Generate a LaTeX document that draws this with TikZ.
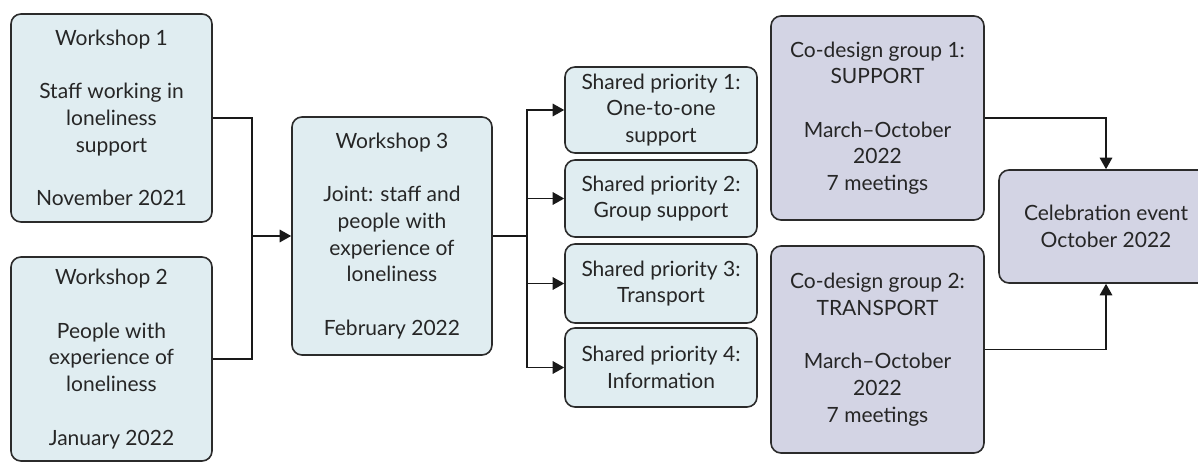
\documentclass[tikz,border=0pt]{standalone}
\usepackage{fontspec}
\setmainfont{Lato}
\usetikzlibrary{arrows.meta}
\definecolor{boxblue}{HTML}{E0EDF1}
\definecolor{boxpurple}{HTML}{D3D4E4}
\definecolor{edge}{HTML}{2B2B2B}
\begin{document}
\begin{tikzpicture}[x=1pt,y=-1pt,
  box/.style={draw=edge,line width=1.6pt,rounded corners=10pt,align=center,
    inner sep=0pt,font=\fontsize{21}{26.7}\selectfont,text=black!85},
  bluebox/.style={box,fill=boxblue},
  purplebox/.style={box,fill=boxpurple},
  conn/.style={draw=black!90,line width=1.5pt},
  arr/.style={conn,-{Triangle[length=11.5pt,width=12.5pt]}}]
\useasboundingbox (0,0) rectangle (1198,462);
\clip (0,0) rectangle (1198,462);
\node[bluebox,minimum width=201pt,minimum height=208pt] (w1) at (111.5,118)
  {Workshop 1\\[26.7pt]Staff working in\\loneliness\\support\\[26.7pt]November 2021};
\node[bluebox,minimum width=201pt,minimum height=204pt] (w2) at (111.5,359)
  {Workshop 2\\[26.7pt]People with\\experience of\\loneliness\\[26.7pt]January 2022};
\node[bluebox,minimum width=200pt,minimum height=238pt] (w3) at (392,236)
  {Workshop 3\\[26.7pt]Joint: staff and\\people with\\experience of\\loneliness\\[26.7pt]February 2022};
\node[bluebox,minimum width=192pt,minimum height=86pt] (p1) at (661,110)
  {Shared priority 1:\\One-to-one\\support};
\node[bluebox,minimum width=192pt,minimum height=77pt] (p2) at (661,198.5)
  {Shared priority 2:\\Group support};
\node[bluebox,minimum width=192pt,minimum height=79pt] (p3) at (661,283.5)
  {Shared priority 3:\\Transport};
\node[bluebox,minimum width=192pt,minimum height=79pt] (p4) at (661,367.5)
  {Shared priority 4:\\Information};
\node[purplebox,minimum width=213pt,minimum height=204pt] (c1) at (877.5,118)
  {Co-design group 1:\\SUPPORT\\[26.7pt]March--October\\2022\\7 meetings};
\node[purplebox,minimum width=213pt,minimum height=207pt] (c2) at (877.5,349.5)
  {Co-design group 2:\\TRANSPORT\\[26.7pt]March--October\\2022\\7 meetings};
\node[purplebox,minimum width=214pt,minimum height=113pt] (cel) at (1106,226.5)
  {Celebration event\\October 2022};
\coordinate (j) at (252,236);
\coordinate (k) at (527,236);
\draw[conn] (w1.east) -| (j);
\draw[conn] (w2.east) -| (j);
\draw[arr] (j) -- (w3.west);
\draw[conn] (w3.east) -- (k);
\draw[arr] (k) |- (p1.west);
\draw[arr] (k) |- (p2.west);
\draw[arr] (k) |- (p3.west);
\draw[arr] (k) |- (p4.west);
\draw[arr] (c1.east) -| (cel.north);
\draw[arr] (c2.east) -| (cel.south);
\end{tikzpicture}
\end{document}
